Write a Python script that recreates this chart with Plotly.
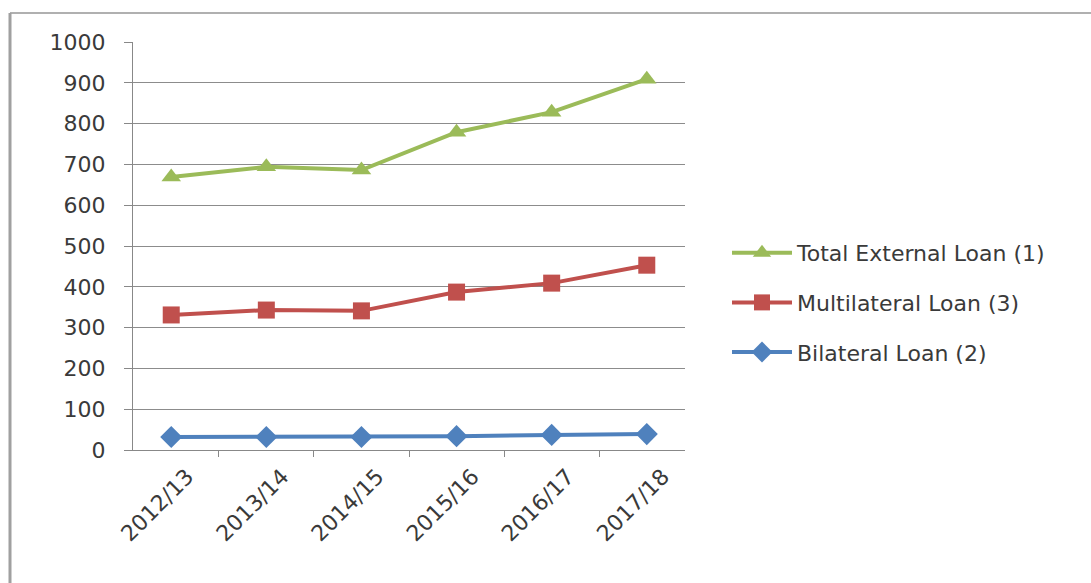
import plotly.graph_objects as go

years = ["2012/13", "2013/14", "2014/15", "2015/16", "2016/17", "2017/18"]
total_external = [669, 694, 686, 779, 828, 909]
multilateral = [331, 343, 341, 387, 409, 453]
bilateral = [32, 32, 32, 34, 37, 39]

L, R, T, B = 133, 685, 42, 450
W, H = 1091, 583
pw, ph = R - L, B - T

def px_x(p):
    return (p - L) / pw

def px_y(p):
    return (B - p) / ph

fig = go.Figure()
fig.add_trace(go.Scatter(x=years, y=total_external, name="Total External Loan (1)",
                         mode="lines+markers", legendgroup="a",
                         line=dict(color="#9BBB59", width=4),
                         marker=dict(symbol="triangle-up", size=17, color="#9BBB59")))
fig.add_trace(go.Scatter(x=years, y=multilateral, name="Multilateral Loan (3)",
                         mode="lines+markers", legendgroup="b",
                         line=dict(color="#C0504D", width=4),
                         marker=dict(symbol="square", size=17, color="#C0504D")))
fig.add_trace(go.Scatter(x=years, y=bilateral, name="Bilateral Loan (2)",
                         mode="lines+markers", legendgroup="c",
                         line=dict(color="#4F81BD", width=4),
                         marker=dict(symbol="diamond", size=17, color="#4F81BD")))

# outer frame (left and top edges as in the reference)
fig.add_shape(type="line", xref="paper", yref="paper",
              x0=px_x(10), x1=px_x(W), y0=px_y(13), y1=px_y(13),
              line=dict(color="#b0b0b0", width=2))
fig.add_shape(type="line", xref="paper", yref="paper",
              x0=px_x(10), x1=px_x(10), y0=px_y(13), y1=px_y(W),
              line=dict(color="#a0a0a0", width=3))

fig.update_layout(
    width=W, height=H,
    margin=dict(l=L, r=W - R, t=T, b=H - B),
    paper_bgcolor="white", plot_bgcolor="white",
    font=dict(family="DejaVu Sans, sans-serif", size=22, color="#3a3a3a"),
    showlegend=True,
    legend=dict(x=px_x(727), y=px_y(232), xanchor="left", yanchor="top",
                font=dict(size=22, color="#3a3a3a"), tracegroupgap=18,
                itemwidth=60, bgcolor="rgba(0,0,0,0)"),
    xaxis=dict(type="category", showgrid=False, showline=True, linecolor="#888888",
               linewidth=1, ticks="outside", ticklen=6, tickcolor="#888888",
               tickson="boundaries", tickangle=-45, tickfont=dict(size=22),
               ticklabelshift=16, ticklabelstandoff=4,
               mirror=False, zeroline=False, automargin=False),
    yaxis=dict(range=[0, 1000], dtick=100, showgrid=True, gridcolor="#8c8c8c",
               gridwidth=1, showline=True, linecolor="#888888", linewidth=1,
               ticks="outside", ticklen=8, tickcolor="#888888", zeroline=False,
               tickfont=dict(size=22), ticklabelstandoff=14, automargin=False),
)

fig.write_html("out.html")
